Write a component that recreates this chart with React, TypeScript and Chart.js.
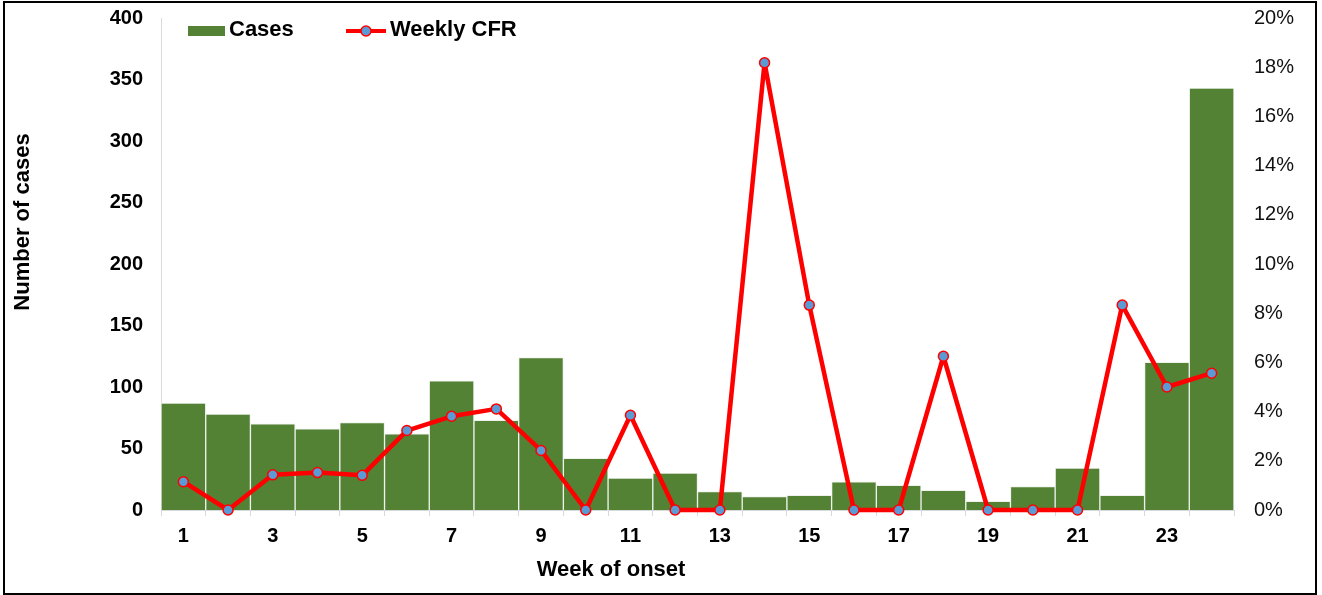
import React, { useEffect, useRef } from 'react';
import { Chart, registerables } from 'chart.js';

Chart.register(...registerables);

const weeks = ['1', '2', '3', '4', '5', '6', '7', '8', '9', '10', '11', '12', '13', '14', '15', '16', '17', '18', '19', '20', '21', '22', '23', '24'];
const cases = [87, 78, 70, 66, 71, 62, 105, 73, 124, 42, 26, 30, 15, 11, 12, 23, 20, 16, 7, 19, 34, 12, 120, 343];
const weeklyCfr = [1.15, 0, 1.43, 1.52, 1.41, 3.23, 3.81, 4.11, 2.42, 0, 3.85, 0, 0, 18.18, 8.33, 0, 0, 6.25, 0, 0, 0, 8.33, 5.0, 5.56];
const caseTicks = [0, 50, 100, 150, 200, 250, 300, 350, 400];
const cfrTicks = [0, 2, 4, 6, 8, 10, 12, 14, 16, 18, 20];
const xTitle = 'Week of onset';
const yTitle = 'Number of cases';

const FONT = '"Liberation Sans", Arial, sans-serif';
const GREEN = '#548235';
const RED = '#FF0000';
const BLUE = '#5B9BD5';

const legendPlugin = {
  id: 'customLegend',
  afterDraw(chart: any) {
    const ctx = chart.ctx;
    ctx.save();
    ctx.fillStyle = GREEN;
    ctx.fillRect(188, 26, 37, 10);
    ctx.font = `bold 22px ${FONT}`;
    ctx.fillStyle = '#000';
    ctx.textBaseline = 'middle';
    ctx.textAlign = 'left';
    ctx.fillText('Cases', 229, 30);
    ctx.strokeStyle = RED;
    ctx.lineWidth = 4;
    ctx.beginPath();
    ctx.moveTo(346, 31);
    ctx.lineTo(386, 31);
    ctx.stroke();
    ctx.beginPath();
    ctx.arc(366, 31, 5, 0, Math.PI * 2);
    ctx.fillStyle = BLUE;
    ctx.fill();
    ctx.lineWidth = 1.5;
    ctx.stroke();
    ctx.fillStyle = '#000';
    ctx.fillText('Weekly CFR', 390, 30);

    // axis titles
    ctx.textAlign = 'center';
    ctx.fillText(xTitle, 611, 570);
    ctx.translate(23, 222);
    ctx.rotate(-Math.PI / 2);
    ctx.fillText(yTitle, 0, 0);
    ctx.restore();
  },
};

export default function App() {
  const ref = useRef<HTMLCanvasElement | null>(null);

  useEffect(() => {
    if (!ref.current) return;
    const chart = new Chart(ref.current, {
      type: 'bar',
      data: {
        labels: weeks,
        datasets: [
          {
            type: 'line',
            label: 'Weekly CFR',
            data: weeklyCfr,
            yAxisID: 'y1',
            borderColor: RED,
            borderWidth: 4.5,
            borderJoinStyle: 'round',
            borderCapStyle: 'round',
            pointRadius: 5,
            pointBackgroundColor: BLUE,
            pointBorderColor: RED,
            pointBorderWidth: 1.5,
            tension: 0,
            clip: false as any,
            order: 0,
          } as any,
          {
            type: 'bar',
            label: 'Cases',
            data: cases,
            yAxisID: 'y',
            backgroundColor: GREEN,
            borderColor: '#eef1ec',
            borderWidth: 1,
            barPercentage: 1,
            categoryPercentage: 1,
            order: 1,
          } as any,
        ],
      },
      options: {
        responsive: false,
        animation: false,
        devicePixelRatio: 1,
        layout: { padding: { top: 18, left: 0, right: 0, bottom: 0 } },
        plugins: {
          legend: { display: false },
          tooltip: { enabled: false },
        },
        scales: {
          x: {
            offset: true,
            grid: {
              display: true,
              drawOnChartArea: false,
              drawTicks: true,
              tickLength: 6,
              color: '#d9d9d9',
              offset: true,
            },
            border: { display: true, color: '#d9d9d9', width: 1 },
            ticks: {
              autoSkip: false,
              maxRotation: 0,
              minRotation: 0,
              padding: 8,
              color: '#000',
              font: { family: FONT, size: 20, weight: 'bold' },
              callback: (_v: any, i: number) => (i % 2 === 0 ? weeks[i] : ''),
            },
            afterFit: (s: any) => {
              s.height = 85;
              s.paddingLeft = 0;
              s.paddingRight = 0;
            },
          },
          y: {
            position: 'left',
            min: 0,
            max: 400,
            afterBuildTicks: (s: any) => {
              s.ticks = caseTicks.map((v) => ({ value: v }));
            },
            grid: { display: false, drawTicks: false },
            border: { display: true, color: '#d9d9d9', width: 1 },
            ticks: {
              padding: 18,
              color: '#000',
              font: { family: FONT, size: 20, weight: 'bold' },
            },
            afterFit: (s: any) => {
              s.width = 161;
              s.paddingTop = 0;
              s.paddingBottom = 0;
            },
          },
          y1: {
            position: 'right',
            min: 0,
            max: 20,
            afterBuildTicks: (s: any) => {
              s.ticks = cfrTicks.map((v) => ({ value: v }));
            },
            grid: { display: false, drawTicks: false },
            border: { display: false },
            ticks: {
              padding: 20,
              color: '#111',
              font: { family: FONT, size: 20 },
              callback: (v: any) => `${v}%`,
            },
            afterFit: (s: any) => {
              s.width = 88;
              s.paddingTop = 0;
              s.paddingBottom = 0;
            },
          },
        },
      } as any,
      plugins: [legendPlugin],
    });
    return () => chart.destroy();
  }, []);

  return (
    <div style={{ position: 'fixed', left: 0, top: 0, width: 1322, height: 595, background: '#fff' }}>
      <canvas ref={ref} width={1322} height={595} style={{ position: 'absolute', left: 0, top: 0 }} />
      <div
        style={{
          position: 'absolute',
          left: 3,
          top: 1,
          width: 1314,
          height: 594,
          border: '2px solid #000',
          boxSizing: 'border-box',
          pointerEvents: 'none',
        }}
      />
    </div>
  );
}
